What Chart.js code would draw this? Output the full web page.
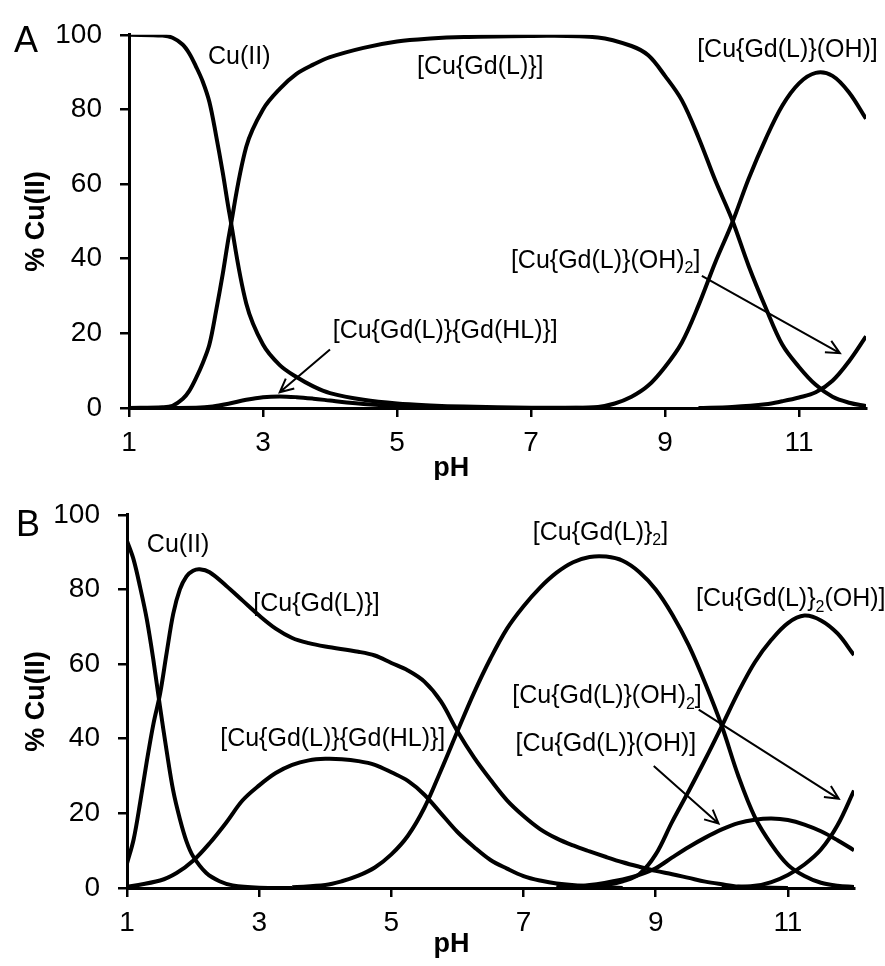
<!DOCTYPE html>
<html>
<head>
<meta charset="utf-8">
<title>Cu(II) speciation</title>
<script src="https://cdn.jsdelivr.net/npm/chart.js@4.4.1/dist/chart.umd.min.js"></script>
<style>
  html, body { margin: 0; padding: 0; background: #fff; }
  canvas { display: block; }
</style>
</head>
<body>
<canvas id="chartA" width="885" height="480"></canvas>
<canvas id="chartB" width="885" height="486"></canvas>
<script>
// axis ticks
const pHTicks = [1, 3, 5, 7, 9, 11];
const pctTicks = [0, 20, 40, 60, 80, 100];

// ---- panel A : % of Cu(II) per species ----
const A_cu_pH = [1, 1.5, 1.65, 1.8, 1.9, 2, 2.1, 2.2, 2.3, 2.4, 2.5, 2.75, 3, 3.25, 3.5, 3.75, 4, 4.5, 5, 5.5, 6, 7, 8];
const A_cu    = [100, 99.8, 99.2, 97.4, 95, 91.5, 87.5, 82, 73, 63, 52, 28, 17, 11.5, 8.3, 5.8, 4.0, 2.2, 1.2, 0.7, 0.4, 0.1, 0];

const A_ml_pH = [1, 1.5, 1.65, 1.8, 1.9, 2, 2.1, 2.2, 2.3, 2.4, 2.5, 2.75, 3, 3.25, 3.5, 3.75, 4, 4.5, 5, 5.5, 6, 7, 8,
                 8.5, 8.75, 9, 9.25, 9.5, 9.75, 10, 10.25, 10.5, 10.75, 11, 11.25, 11.5, 11.75, 12];
const A_ml    = [0, 0.2, 0.6, 2.4, 4.6, 8, 12, 17, 26, 36, 47, 70, 80, 85.5, 89.5, 92, 94, 96.5, 98.2, 99, 99.4, 99.7, 99.3,
                 97, 94.5, 89, 82.5, 72.5, 61, 50.5, 38, 27, 17, 11, 6.2, 3, 1.4, 0.5];

const A_ml2h_pH = [1, 2, 2.25, 2.5, 2.75, 3, 3.25, 3.5, 3.75, 4, 4.25, 4.5, 5, 5.5, 6];
const A_ml2h    = [0, 0.1, 0.4, 1.2, 2.2, 2.9, 3.1, 2.9, 2.5, 2.0, 1.5, 1.1, 0.5, 0.2, 0];

const A_mloh_pH = [7.5, 8, 8.25, 8.5, 8.75, 9, 9.25, 9.5, 9.75, 10, 10.25, 10.5, 10.75, 11, 11.25, 11.5, 11.75, 12];
const A_mloh    = [0, 0.3, 1.2, 3, 6, 11, 17.5, 27.5, 39, 49.5, 61.5, 72, 81, 87, 89.8, 89, 84.5, 77.5];

const A_mloh2_pH = [9.5, 10, 10.5, 10.75, 11, 11.25, 11.5, 11.75, 12];
const A_mloh2    = [0, 0.3, 1.0, 1.8, 2.8, 4.2, 7.3, 12.6, 19.2];

// ---- panel B ----
const B_cu_pH = [1, 1.1, 1.2, 1.3, 1.4, 1.5, 1.6, 1.7, 1.8, 1.9, 2, 2.2, 2.4, 2.6, 3, 3.5];
const B_cu    = [93, 88, 80.5, 72, 61, 48.5, 36.7, 26, 18.5, 12.5, 8.5, 4, 1.8, 0.7, 0.1, 0];

const B_ml_pH = [1, 1.1, 1.2, 1.3, 1.4, 1.5, 1.6, 1.7, 1.8, 1.9, 2, 2.1, 2.25, 2.5, 2.75, 3, 3.25, 3.5, 3.75, 4,
                 4.5, 4.75, 5, 5.25, 5.5, 5.75, 6, 6.25, 6.5, 6.75, 7, 7.25, 7.5, 7.75, 8, 8.25, 8.5, 8.75,
                 9, 9.25, 9.5, 9.75, 10, 10.25, 10.5, 11];
const B_ml    = [6.6, 13, 23, 34, 44, 52, 63, 73.5, 80, 83.5, 85, 85.4, 84.6, 81, 77, 73, 69.5, 67, 65.6, 64.7,
                 63.3, 62.3, 60.3, 58.3, 55.3, 50, 42, 35, 29, 23.5, 19.3, 15.8, 13.3, 11.4, 9.8, 8.3, 6.9, 5.7,
                 4.6, 3.7, 2.7, 1.7, 1.0, 0.4, 0.2, 0];

const B_ml2h_pH = [1, 1.5, 1.75, 2, 2.25, 2.5, 2.75, 3, 3.25, 3.5, 3.75, 4, 4.25, 4.5, 4.75, 5, 5.25, 5.5,
                   5.75, 6, 6.25, 6.5, 6.75, 7, 7.25, 7.5, 8, 8.5];
const B_ml2h    = [0.3, 2, 4, 7.3, 12, 17.5, 23.5, 27.5, 30.8, 33, 34.2, 34.6, 34.5, 34, 33, 31, 28.7, 25,
                   20, 15, 11, 7.5, 5.2, 3.2, 2, 1.2, 0.4, 0];

const B_ml2_pH = [3.5, 4, 4.25, 4.5, 4.75, 5, 5.25, 5.5, 5.75, 6, 6.25, 6.5, 6.75, 7, 7.25, 7.5, 7.75, 8, 8.25,
                  8.5, 8.75, 9, 9.25, 9.5, 9.75, 10, 10.25, 10.5, 10.75, 11, 11.25, 11.5, 11.75, 12];
const B_ml2    = [0.2, 0.8, 1.8, 3.3, 5.5, 9, 14, 21.5, 31.5, 42, 52.3, 61.5, 69.5, 75.5, 80.5, 84.5, 87.3, 88.7, 88.8,
                  87.7, 84.7, 80, 73.3, 65, 54.8, 43.4, 30, 19, 11.7, 6.2, 3.2, 1.4, 0.6, 0.3];

const B_ml2oh_pH = [7.5, 8, 8.25, 8.5, 8.75, 9, 9.25, 9.5, 9.75, 10, 10.25, 10.5, 10.75, 11, 11.25, 11.5, 11.75, 12];
const B_ml2oh    = [0.1, 0.5, 0.8, 1.8, 3.7, 9, 17.8, 26, 34.5, 43.4, 52.5, 60.5, 66.5, 71, 73, 71.7, 68.2, 62.4];

const B_mloh_pH = [7.5, 8, 8.5, 8.75, 9, 9.25, 9.5, 9.75, 10, 10.25, 10.5, 10.75, 11, 11.25, 11.5, 11.75, 12];
const B_mloh    = [0.2, 0.8, 2.3, 3.5, 5.3, 8.2, 11, 13.5, 15.7, 17.4, 18.3, 18.6, 18.2, 17, 15.2, 12.8, 10.1];

const B_mloh2_pH = [10, 10.5, 10.75, 11, 11.25, 11.5, 11.75, 12];
const B_mloh2    = [0.1, 0.6, 1.6, 3.5, 6.3, 10.3, 16.8, 26.1];

// species labels, anchored (left edge, middle) at pH / % ; "_2" = subscript 2
const notesA = [
    { text: 'Cu(II)', x: 2.18, y: 94 },
    { text: '[Cu{Gd(L)}]', x: 5.30, y: 91.3 },
    { text: '[Cu{Gd(L)}(OH)]', x: 9.48, y: 95.8 },
    { text: '[Cu{Gd(L)}(OH)_2]', x: 6.70, y: 39.4 },
    { text: '[Cu{Gd(L)}{Gd(HL)}]', x: 4.04, y: 20.5 }
];
const arrowsA = [
    { from: [4.0, 15.7], to: [3.25, 4.2] },
    { from: [9.55, 35.4], to: [11.61, 14.7] }
];
const notesB = [
    { text: 'Cu(II)', x: 1.30, y: 91.9 },
    { text: '[Cu{Gd(L)}]', x: 2.91, y: 76 },
    { text: '[Cu{Gd(L)}{Gd(HL)}]', x: 2.41, y: 39.8 },
    { text: '[Cu{Gd(L)}_2]', x: 7.14, y: 95.1 },
    { text: '[Cu{Gd(L)}_2(OH)]', x: 9.61, y: 77.3 },
    { text: '[Cu{Gd(L)}(OH)_2]', x: 6.83, y: 51.3 },
    { text: '[Cu{Gd(L)}(OH)]', x: 6.88, y: 38.5 }
];
const arrowsB = [
    { from: [9.65, 47.8], to: [11.77, 23.9] },
    { from: [8.97, 32.7], to: [9.95, 17.3] }
];

const FONT = '"Liberation Sans", Arial, sans-serif';

function curve(xs, ys) {
    return {
        data: xs.map((x, i) => ({ x: x, y: ys[i] })),
        borderColor: '#000',
        borderWidth: 4,
        pointRadius: 0,
        fill: false,
        tension: 0.35
    };
}

function drawLabel(ctx, text, x, y) {
    const parts = text.split('_2');
    ctx.textAlign = 'left';
    ctx.textBaseline = 'middle';
    parts.forEach((p, i) => {
        ctx.font = '25px ' + FONT;
        ctx.fillText(p, x, y);
        x += ctx.measureText(p).width;
        if (i < parts.length - 1) { // subscript
            ctx.font = '16px ' + FONT;
            ctx.fillText('2', x, y + 8);
            x += ctx.measureText('2').width;
        }
    });
}

function drawArrow(ctx, x1, y1, x2, y2) {
    const ang = Math.atan2(y2 - y1, x2 - x1);
    const head = 15, spread = 0.45;
    ctx.lineWidth = 2;
    ctx.beginPath();
    ctx.moveTo(x1, y1);
    ctx.lineTo(x2, y2);
    ctx.moveTo(x2 - head * Math.cos(ang - spread), y2 - head * Math.sin(ang - spread));
    ctx.lineTo(x2, y2);
    ctx.lineTo(x2 - head * Math.cos(ang + spread), y2 - head * Math.sin(ang + spread));
    ctx.stroke();
}

const notesPlugin = {
    id: 'notes',
    afterDraw(chart, args, opts) {
        const ctx = chart.ctx;
        const sx = chart.scales.x, sy = chart.scales.y;
        ctx.save();
        ctx.fillStyle = '#000';
        ctx.strokeStyle = '#000';

        // panel letter
        ctx.font = '36px ' + FONT;
        ctx.textAlign = 'left';
        ctx.textBaseline = 'middle';
        ctx.fillText(opts.letter, opts.letterX, opts.letterY);

        // x axis title
        ctx.font = 'bold 27px ' + FONT;
        ctx.textAlign = 'center';
        ctx.fillText('pH', sx.getPixelForValue(opts.titlePH), opts.titleY);

        opts.labels.forEach(l => drawLabel(ctx, l.text, sx.getPixelForValue(l.x), sy.getPixelForValue(l.y)));
        opts.arrows.forEach(a => drawArrow(ctx,
            sx.getPixelForValue(a.from[0]), sy.getPixelForValue(a.from[1]),
            sx.getPixelForValue(a.to[0]), sy.getPixelForValue(a.to[1])));
        ctx.restore();
    }
};

function makeChart(id, datasets, box, notes) {
    const tickFont = { family: FONT, size: 28 };
    const gridLook = {
        drawOnChartArea: false,
        drawTicks: true,
        tickLength: 9,
        color: '#000',
        tickColor: '#000',
        lineWidth: 2.5
    };
    return new Chart(document.getElementById(id), {
        type: 'line',
        data: { datasets: datasets },
        options: {
            responsive: false,
            animation: false,
            layout: { padding: { top: box.top, right: box.right, left: 0, bottom: 0 } },
            plugins: {
                legend: { display: false },
                tooltip: { enabled: false },
                notes: notes
            },
            scales: {
                x: {
                    type: 'linear',
                    min: 1,
                    max: 12,
                    afterFit: s => { s.height = box.xHeight; },
                    afterBuildTicks: s => { s.ticks = pHTicks.map(v => ({ value: v })); },
                    ticks: { font: tickFont, color: '#000', padding: 9, maxRotation: 0 },
                    grid: gridLook,
                    border: { color: '#000', width: 3 }
                },
                y: {
                    min: 0,
                    max: 100,
                    afterFit: s => { s.width = box.yWidth; },
                    afterBuildTicks: s => { s.ticks = pctTicks.map(v => ({ value: v })); },
                    ticks: { font: tickFont, color: '#000', padding: 18 },
                    grid: gridLook,
                    border: { color: '#000', width: 3 },
                    title: {
                        display: true,
                        text: '% Cu(II)',
                        color: '#000',
                        font: { family: FONT, size: 27, weight: 'bold' },
                        padding: { top: 20, bottom: 0 }
                    }
                }
            }
        },
        plugins: [notesPlugin]
    });
}

makeChart('chartA', [
    curve(A_cu_pH, A_cu),
    curve(A_ml_pH, A_ml),
    curve(A_ml2h_pH, A_ml2h),
    curve(A_mloh_pH, A_mloh),
    curve(A_mloh2_pH, A_mloh2)
], { top: 27, right: 19, yWidth: 129, xHeight: 72 },
   { letter: 'A', letterX: 14, letterY: 42, titlePH: 5.81, titleY: 469, labels: notesA, arrows: arrowsA });

makeChart('chartB', [
    curve(B_cu_pH, B_cu),
    curve(B_ml_pH, B_ml),
    curve(B_ml2h_pH, B_ml2h),
    curve(B_ml2_pH, B_ml2),
    curve(B_ml2oh_pH, B_ml2oh),
    curve(B_mloh_pH, B_mloh),
    curve(B_mloh2_pH, B_mloh2)
], { top: 32, right: 31, yWidth: 127, xHeight: 78 },
   { letter: 'B', letterX: 16, letterY: 46, titlePH: 5.91, titleY: 465, labels: notesB, arrows: arrowsB });
</script>
</body>
</html>
